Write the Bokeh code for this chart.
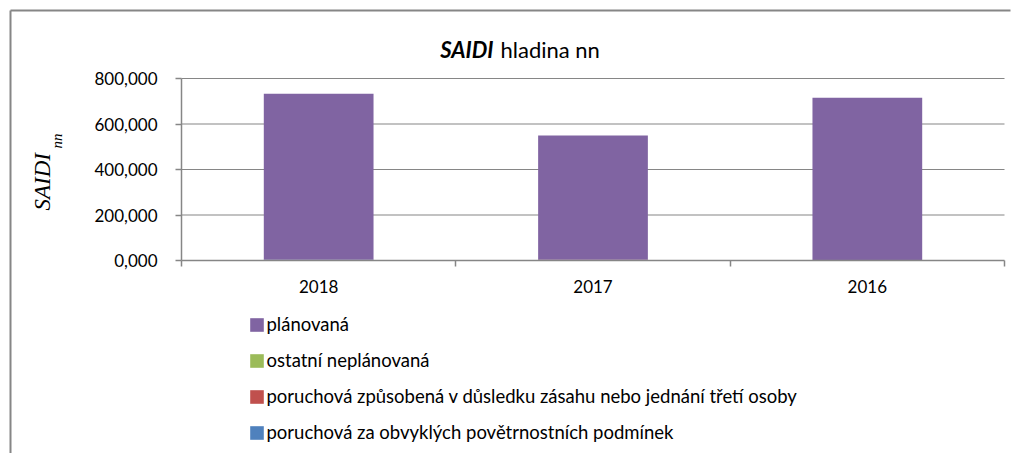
import numpy as np
from bokeh.plotting import figure
from bokeh.models import (ColumnDataSource, FixedTicker, Legend, LegendItem, Range1d)
from bokeh.core.properties import value
from bokeh.embed import file_html
from bokeh.resources import INLINE

# ---- data ----
years = ["2018", "2017", "2016"]
planovana = [729.5, 546.5, 712.5]
ostatni_neplanovana = [0.2, 0.1, 0.1]
poruchova_treti_osoba = [0.4, 0.3, 0.3]
poruchova_obvykle = [3.0, 2.5, 2.0]
y_ticks = [0, 200, 400, 600, 800]
y_tick_labels = ["0,000", "200,000", "400,000", "600,000", "800,000"]

series_names = ["plánovaná", "ostatní neplánovaná",
                "poruchová způsobená v důsledku zásahu nebo jednání třetí osoby",
                "poruchová za obvyklých povětrnostních podmínek"]
colors = {"planovana": "#8064A2", "ostatni": "#9BBB59",
          "treti": "#C0504D", "obvykle": "#4F81BD"}

FONT = "Lato"
GRAY = "#868686"
W, H = 1020, 453
# plot area on the page (pixels, y downward)
PL, PR, PT, PB = 181, 1004, 78, 260
YMAX = 800
NCAT = len(years)

# the frame fills the whole canvas; ranges chosen so the plot area lands at PL..PR, PT..PB
sx = (PR - PL) / NCAT            # px per category
sy = (PB - PT) / YMAX            # px per value unit
x_range = Range1d(-PL / sx, NCAT + (W - PR) / sx)
y_range = Range1d(-(H - PB) / sy, YMAX + PT / sy)


def dx(px):
    return (px - PL) / sx


def dy(py):
    return (PB - py) / sy


p = figure(width=W, height=H, output_backend="svg", toolbar_location=None,
           x_range=x_range, y_range=y_range,
           min_border_left=0, min_border_right=0, min_border_top=0, min_border_bottom=0)
p.outline_line_color = None
p.background_fill_color = "white"
p.border_fill_color = "white"
p.xgrid.visible = False
p.ygrid.visible = False

# horizontal gridlines limited to the plot area
p.segment(x0=[0] * len(y_ticks[1:]), x1=[NCAT] * len(y_ticks[1:]), y0=y_ticks[1:], y1=y_ticks[1:],
          line_color=GRAY, line_width=1.2, level="underlay")

xc = np.arange(NCAT) + 0.5
src = ColumnDataSource(dict(x=xc, obvykle=poruchova_obvykle, treti=poruchova_treti_osoba,
                            ostatni=ostatni_neplanovana, planovana=planovana))
stack = ["obvykle", "treti", "ostatni", "planovana"]
rs = p.vbar_stack(stack, x="x", width=0.4, source=src,
                  color=[colors[s] for s in stack], line_color=None)
rmap = dict(zip(stack, rs))

ax = p.xaxis[0]
ax.fixed_location = 0
ax.bounds = (0, NCAT)
ax.ticker = FixedTicker(ticks=list(xc), minor_ticks=list(range(NCAT + 1)))
ax.major_label_overrides = {float(v): y for v, y in zip(xc, years)}
ax.major_tick_out = 0
ax.major_tick_in = 0
ax.minor_tick_out = 6
ax.minor_tick_in = 0
ax.minor_tick_line_color = GRAY
ax.minor_tick_line_width = 1.5
ax.axis_line_color = GRAY
ax.axis_line_width = 1.5
ax.major_label_text_font = FONT
ax.major_label_text_font_size = "17px"
ax.major_label_text_color = "#000000"
ax.major_label_standoff = 13

ay = p.yaxis[0]
ay.fixed_location = 0
ay.bounds = (0, YMAX)
ay.ticker = FixedTicker(ticks=y_ticks, minor_ticks=[])
ay.major_label_overrides = {t: l for t, l in zip(y_ticks, y_tick_labels)}
ay.major_tick_out = 6
ay.major_tick_in = 0
ay.major_tick_line_color = GRAY
ay.major_tick_line_width = 1.5
ay.minor_tick_out = 0
ay.minor_tick_in = 0
ay.axis_line_color = GRAY
ay.axis_line_width = 1.5
ay.major_label_text_font = FONT
ay.major_label_text_font_size = "17px"
ay.major_label_text_color = "#000000"
ay.major_label_standoff = 18

# outer border: left and top edges of the chart box
p.segment(x0=[dx(10), dx(10)], y0=[dy(10), dy(10)], x1=[dx(1010), dx(10)], y1=[dy(10), dy(H + 5)],
          line_color=GRAY, line_width=2)

# title
p.text(x=[dx(493)], y=[dy(48.5)], text=["SAIDI"], text_font=value(FONT),
       text_font_style="bold italic", text_font_size="22px", text_align="right",
       text_baseline="alphabetic", text_color="#000000")
p.text(x=[dx(500)], y=[dy(48.5)], text=["hladina nn"], text_font=value(FONT),
       text_font_style="normal", text_font_size="22px", text_align="left",
       text_baseline="alphabetic", text_color="#000000")

# y label SAIDI_nn
p.text(x=[dx(41.5)], y=[dy(210)], text=["SAIDI"], text_font=value("Liberation Serif"),
       text_font_style="italic", text_font_size="23px", text_align="left",
       text_baseline="alphabetic", angle=np.pi / 2, text_color="#000000")
p.text(x=[dx(56.5)], y=[dy(148)], text=["nn"], text_font=value("Liberation Serif"),
       text_font_style="italic", text_font_size="15px", text_align="left",
       text_baseline="alphabetic", angle=np.pi / 2, text_color="#000000")

order = ["planovana", "ostatni", "treti", "obvykle"]
items = [LegendItem(label=n, renderers=[rmap[k]]) for n, k in zip(series_names, order)]
leg = Legend(items=items, location=(247.5, 10), orientation="vertical",
             glyph_width=17, glyph_height=17, label_height=22, spacing=14,
             label_standoff=2, padding=0, margin=0, border_line_color=None,
             background_fill_alpha=0, label_text_font=FONT, label_text_font_size="18.5px",
             label_text_color="#000000")
p.add_layout(leg, "center")

open("out.html", "w").write(file_html(p, INLINE))
